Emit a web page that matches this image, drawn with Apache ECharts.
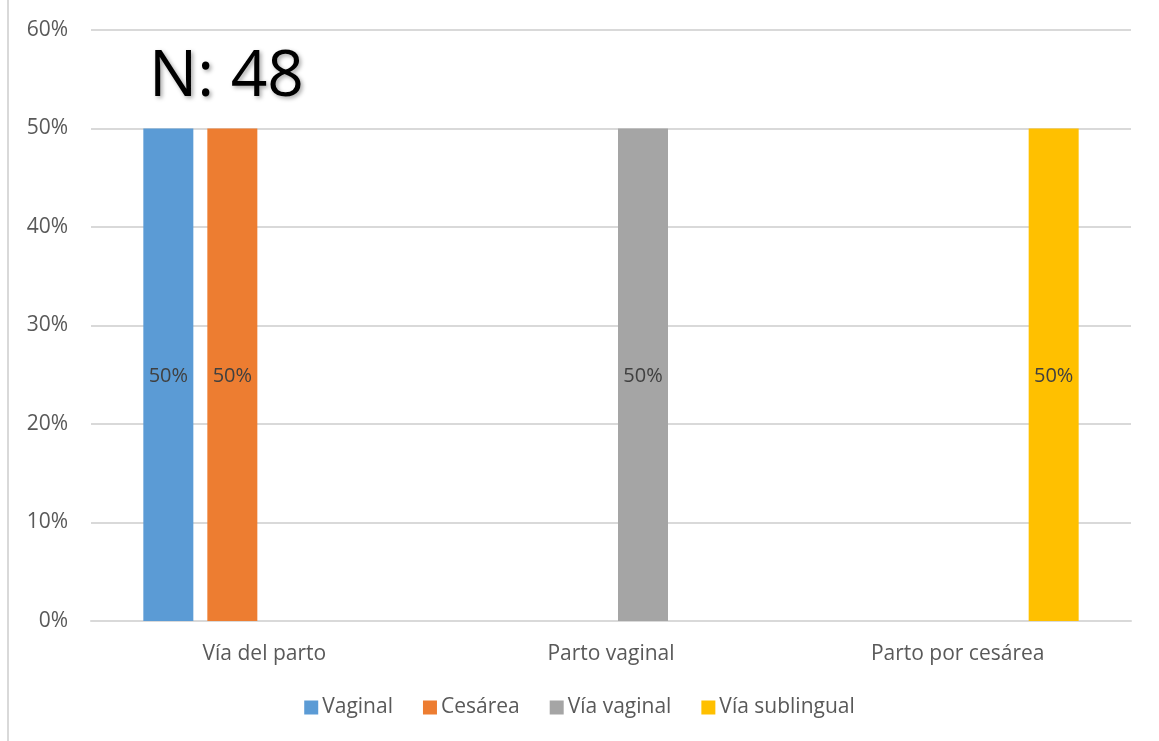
<!DOCTYPE html>
<html>
<head>
<meta charset="utf-8">
<script src="https://cdn.jsdelivr.net/npm/echarts@6/dist/echarts.min.js"></script>
<style>
  html, body { margin: 0; padding: 0; background: #fff; }
  #chart { width: 1159px; height: 741px; }
</style>
</head>
<body>
<div id="chart"></div>
<script>
var categories = ['Vía del parto', 'Parto vaginal', 'Parto por cesárea'];
var seriesNames = ['Vaginal', 'Cesárea', 'Vía vaginal', 'Vía sublingual'];
var vaginal = [0.5, null, null];
var cesarea = [0.5, null, null];
var viaVaginal = [null, 0.5, null];
var viaSublingual = [null, null, 0.5];
var yTicks = [0, 0.1, 0.2, 0.3, 0.4, 0.5, 0.6];
var colors = ['#5b9bd5', '#ed7d31', '#a5a5a5', '#ffc000'];

var fontFam = '"Open Sans", "Noto Sans", sans-serif';

function makeSeries(name, data) {
  return {
    name: name,
    type: 'bar',
    data: data,
    barWidth: 50,
    barGap: '28%',
    label: {
      show: true,
      position: 'inside',
      offset: [0, 2],
      color: '#404040',
      fontSize: 20,
      fontFamily: fontFam,
      formatter: function (p) { return Math.round(p.value * 100) + '%'; }
    }
  };
}

var option = {
  animation: false,
  color: colors,
  grid: { left: 91, right: 28, top: 30, bottom: 120 },
  legend: {
    bottom: 18,
    left: 'center',
    icon: 'rect',
    itemWidth: 14,
    itemHeight: 14,
    itemGap: 30,
    data: seriesNames,
    textStyle: { color: '#595959', fontSize: 21, fontFamily: fontFam, padding: [0, 0, 0, -1] }
  },
  xAxis: {
    type: 'category',
    data: categories,
    axisLine: { lineStyle: { color: '#d9d9d9', width: 2 } },
    axisTick: { show: false },
    axisLabel: { color: '#595959', fontSize: 21, fontFamily: fontFam, margin: 23 }
  },
  yAxis: {
    type: 'value',
    min: yTicks[0],
    max: yTicks[yTicks.length - 1],
    interval: 0.1,
    axisLine: { show: false },
    axisTick: { show: false },
    splitLine: { lineStyle: { color: '#d9d9d9', width: 2 } },
    axisLabel: {
      color: '#595959', fontSize: 21, fontFamily: fontFam, margin: 23,
      formatter: function (v) { return Math.round(v * 100) + '%'; }
    }
  },
  graphic: [
    {
      type: 'line',
      shape: { x1: 8, y1: 0, x2: 8, y2: 741 },
      style: { stroke: '#d9d9d9', lineWidth: 2 }
    },
    {
      type: 'text',
      left: 149,
      top: 46,
      style: {
        text: 'N: 48',
        fontSize: 64,
        fontFamily: fontFam,
        fill: '#000',
        textShadowColor: 'rgba(0,0,0,0.35)',
        textShadowBlur: 4,
        textShadowOffsetX: 2,
        textShadowOffsetY: 2
      }
    }
  ],
  series: [
    makeSeries(seriesNames[0], vaginal),
    makeSeries(seriesNames[1], cesarea),
    makeSeries(seriesNames[2], viaVaginal),
    makeSeries(seriesNames[3], viaSublingual)
  ]
};

var chart = echarts.init(document.getElementById('chart'));
chart.setOption(option);
</script>
</body>
</html>
